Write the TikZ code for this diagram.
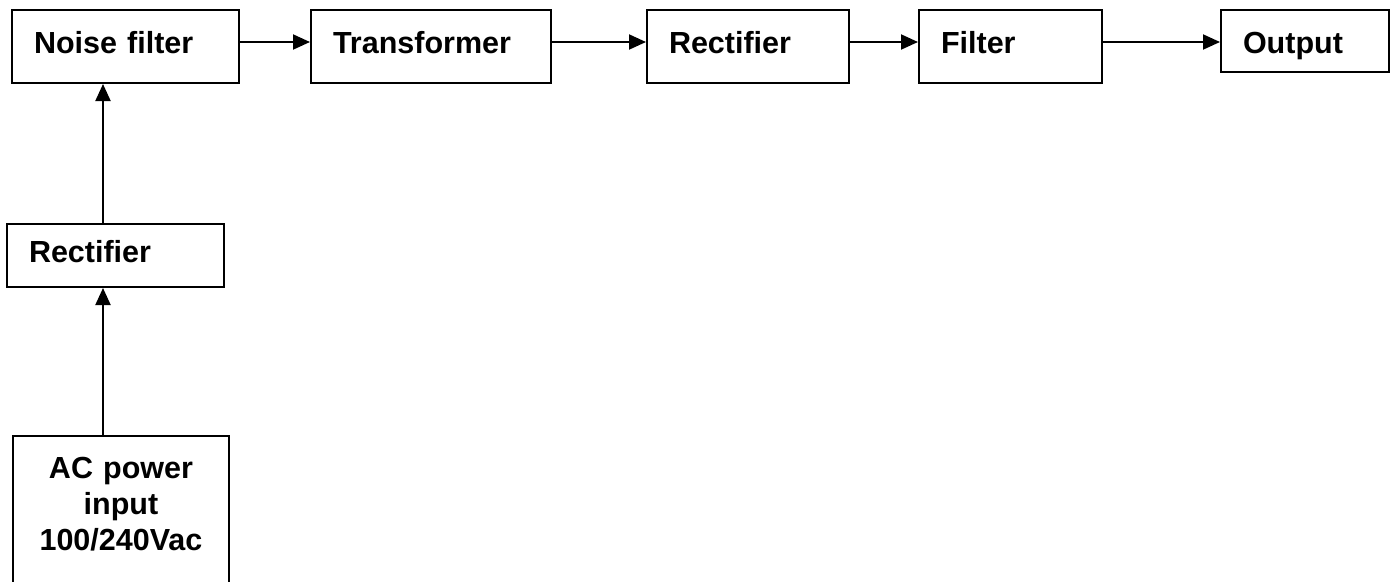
\documentclass[tikz,border=0pt]{standalone}
\usepackage{fontspec}
\setmainfont{Liberation Sans}
\usetikzlibrary{arrows.meta}
\begin{document}
\begin{tikzpicture}[x=1pt,y=-1pt,
	block/.style={draw,line width=2pt,anchor=north west,inner xsep=22pt,inner ysep=0pt,align=left,
		font=\bfseries\fontsize{30.5}{36}\selectfont,text height=22pt,text depth=8pt},
	flow/.style={line width=2pt,-{Triangle[length=17pt,width=15pt]}}]
	\clip (0,0) rectangle (1392,581);
	\def\bh{73}
	% top row
	\node[block,minimum width=227pt,minimum height=\bh pt,text width=183pt] (noise) at (11,9) {Noise filter};
	\node[block,minimum width=240pt,minimum height=\bh pt,text width=196pt] (trans) at (310,9) {Transformer};
	\node[block,minimum width=202pt,minimum height=\bh pt,text width=158pt] (rect) at (646,9) {Rectifier};
	\node[block,minimum width=183pt,minimum height=\bh pt,text width=139pt] (filt) at (918,9) {Filter};
	\node[block,minimum width=168pt,minimum height=62pt,text width=124pt,text height=30pt,text depth=6pt] (out) at (1220,9) {Output};
	% left column
	\node[block,minimum width=217pt,minimum height=63pt,text width=173pt] (rectL) at (6,223) {Rectifier};
	\node[block,minimum width=216pt,minimum height=160pt,text width=172pt,align=center,text height=20pt,text depth=96pt] (ac) at (12,435) {AC power\\input\\100/240Vac};
	
	\coordinate (vx) at (103,0);
	\draw[flow] ([yshift=4.5pt]noise.east) -- ([yshift=4.5pt]noise.east -| trans.west);
	\draw[flow] ([yshift=4.5pt]trans.east) -- ([yshift=4.5pt]trans.east -| rect.west);
	\draw[flow] ([yshift=4.5pt]rect.east) -- ([yshift=4.5pt]rect.east -| filt.west);
	\draw[flow] ([yshift=4.5pt]filt.east) -- ([yshift=4.5pt]filt.east -| out.west);
	\draw[flow] (ac.north -| vx) -- (rectL.south -| vx);
	\draw[flow] (rectL.north -| vx) -- (noise.south -| vx);
\end{tikzpicture}
\end{document}
